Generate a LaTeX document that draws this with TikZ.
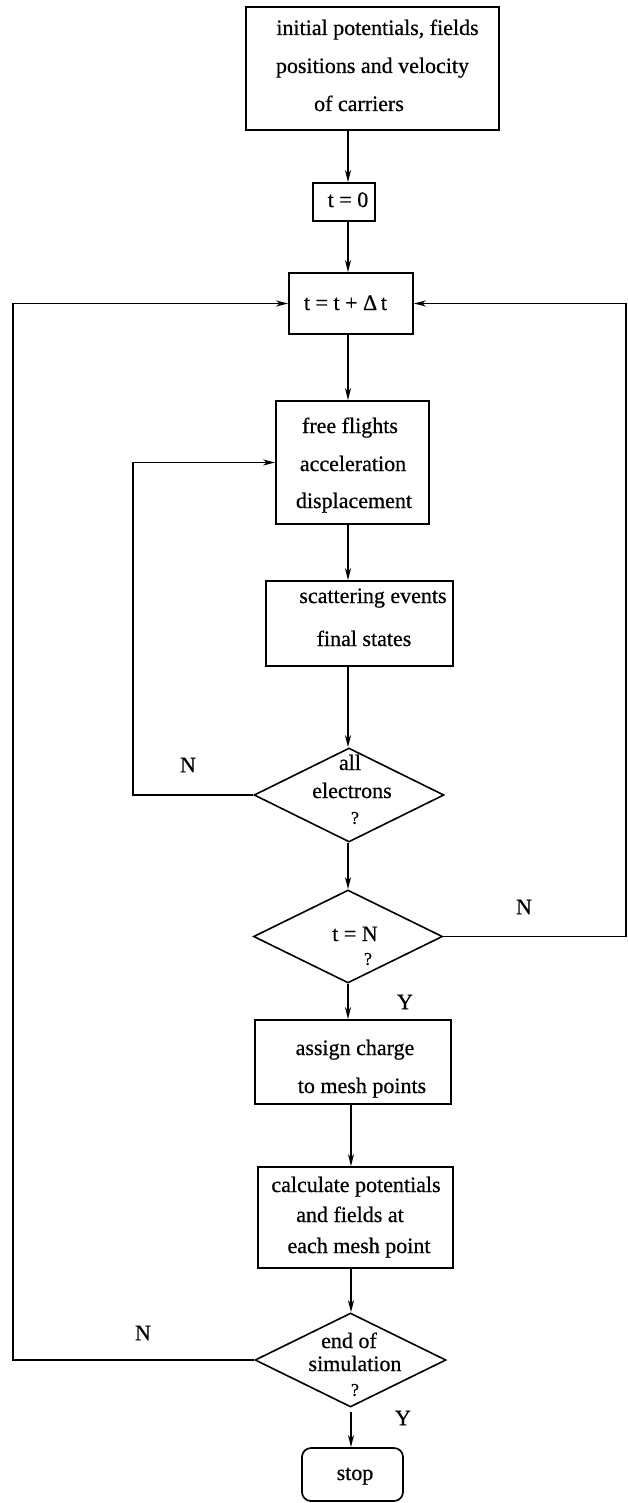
\documentclass[tikz,border=0pt]{standalone}
\usepackage{fontspec}
\setmainfont{Liberation Serif}[FakeBold=0.6]
\usetikzlibrary{shapes.geometric,arrows.meta,calc}
\begin{document}
\begin{tikzpicture}[x=1pt,y=-1pt,
  box/.style={draw, line width=1.7pt, rectangle, inner sep=0pt},
  stopbox/.style={box, rounded corners=9pt},
  dia/.style={draw, line width=1.6pt, diamond, inner sep=0pt},
  tx/.style={font=\fontsize{22}{26}\selectfont, text height=15pt, text depth=5pt, inner sep=0pt},
  qm/.style={font=\fontsize{18}{20}\selectfont, inner sep=0pt},
  lab/.style={font=\fontsize{22}{26}\selectfont, inner sep=0pt},
  conn/.style={line width=1.6pt},
  arr/.style={conn, -{Stealth[length=12pt,width=6pt,inset=3.5pt]}}]
\useasboundingbox (0,0) rectangle (627,1503);
\coordinate (colA) at (348,0);
\coordinate (colB) at (351,0);
\coordinate (ix) at (133,0);
\coordinate (rx) at (626,0);
\coordinate (lx) at (13,0);

% boxes
\node[box, minimum width=253pt, minimum height=123pt] (init) at (372.5,68.5) {};
\node[box, minimum width=62pt, minimum height=38pt] (t0) at (344,202) {};
\node[box, minimum width=124pt, minimum height=61pt] (tdt) at (351,303.5) {};
\node[box, minimum width=153pt, minimum height=123pt] (ff) at (352.5,462.5) {};
\node[box, minimum width=187pt, minimum height=85pt] (sc) at (359.5,623.5) {};
\node[dia, minimum width=190pt, minimum height=94pt] (d1) at (349,795) {};
\node[dia, minimum width=189pt, minimum height=93pt] (d2) at (348,936.5) {};
\node[box, minimum width=196pt, minimum height=84pt] (asg) at (353,1062) {};
\node[box, minimum width=195pt, minimum height=101pt] (calc) at (355.5,1217.5) {};
\node[dia, minimum width=191pt, minimum height=94pt] (d3) at (350.5,1360) {};
\node[stopbox, minimum width=101pt, minimum height=53pt] (stop) at (352.5,1474.5) {};

% texts
\node[tx] (init1) at (377.5,30) {initial potentials, fields};
\node[tx] (init2) at (372.5,68) {positions and velocity};
\node[tx] (init3) at (359,106) {of carriers};
\node[tx] (t0t) at (348,202) {t = 0};
\node[tx] (tdtt) at (345.5,305) {t = t + Δ\,t};
\node[tx] (ff1) at (350,428) {free flights};
\node[tx] (ff2) at (353,466) {acceleration};
\node[tx] (ff3) at (354,503) {displacement};
\node[tx] (sc1) at (373,598) {scattering events};
\node[tx] (sc2) at (364,641) {final states};
\node[tx] (d1a) at (350,765) {all};
\node[tx] (d1b) at (352,793) {electrons};
\node[qm] (d1c) at (355,818) {?};
\node[tx] (d2a) at (355,936) {t = N};
\node[qm] (d2b) at (368,959) {?};
\node[tx] (asg1) at (355,1050) {assign charge};
\node[tx] (asg2) at (362,1088) {to mesh points};
\node[tx] (calc1) at (356,1187) {calculate potentials};
\node[tx] (calc2) at (350,1217) {and fields at};
\node[tx] (calc3) at (359,1248) {each mesh point};
\node[tx] (d3a) at (349,1343) {end of};
\node[tx] (d3b) at (355,1366) {simulation};
\node[qm] (d3c) at (355,1390) {?};
\node[tx] (stopt) at (355,1475) {stop};

% labels
\node[lab] (n1) at (188,765) {N};
\node[lab] (n2) at (524,907) {N};
\node[lab] (n3) at (143,1333) {N};
\node[lab] (y1) at (405,1002) {Y};
\node[lab] (y2) at (403,1418) {Y};

% main flow
\draw[arr] (init.south -| colA) -- (t0.north -| colA);
\draw[arr] (t0.south -| colA) -- (tdt.north -| colA);
\draw[arr] (tdt.south -| colA) -- (ff.north -| colA);
\draw[arr] (ff.south -| colA) -- (sc.north -| colA);
\draw[arr] (sc.south -| colA) -- (d1.north -| colA);
\draw[arr] (d1.south -| colA) -- (d2.north -| colA);
\draw[arr] (d2.south -| colA) -- (asg.north -| colA);
\draw[arr] (asg.south -| colB) -- (calc.north -| colB);
\draw[arr] (calc.south -| colB) -- (d3.north -| colB);
\draw[arr, shorten <=4pt] (d3.south -| colB) -- (stop.north -| colB);

% loops
\draw[arr] (d1.west) -- (d1.west -| ix) -- (ix |- ff.west) -- (ff.west);
\draw[arr] (d2.east) -- (d2.east -| rx) -- (rx |- tdt.east) -- (tdt.east);
\draw[arr] (d3.west) -- (d3.west -| lx) -- (lx |- tdt.west) -- (tdt.west);
\end{tikzpicture}
\end{document}
